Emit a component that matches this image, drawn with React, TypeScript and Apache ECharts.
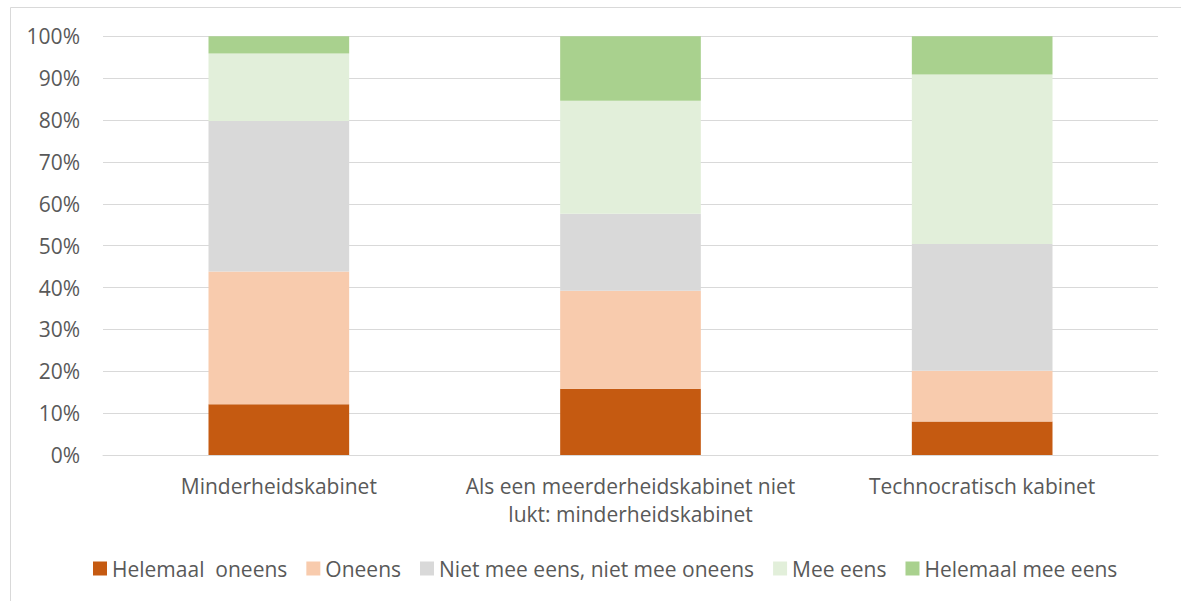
import React, { useEffect, useRef } from "react";
import * as echarts from "echarts";

const categories = [
  "Minderheidskabinet",
  "Als een meerderheidskabinet niet\nlukt: minderheidskabinet",
  "Technocratisch kabinet",
];
const seriesNames = [
  "Helemaal  oneens",
  "Oneens",
  "Niet mee eens, niet mee oneens",
  "Mee eens",
  "Helemaal mee eens",
];
const helemaalOneens = [12.1, 15.8, 8.0];
const oneens = [31.7, 23.4, 12.1];
const neutraal = [36.0, 18.4, 30.3];
const meeEens = [16.1, 27.0, 40.5];
const helemaalMeeEens = [4.1, 15.4, 9.1];
const colors = ["#C55A11", "#F8CBAD", "#D9D9D9", "#E2EFDA", "#A9D18E"];
const yTicks = [0, 10, 20, 30, 40, 50, 60, 70, 80, 90, 100];

const FONT = "'Open Sans', Lato, 'Liberation Sans', sans-serif";

export default function App() {
  const ref = useRef<HTMLDivElement>(null);
  useEffect(() => {
    if (!ref.current) return;
    const chart = echarts.init(ref.current, undefined, { renderer: "svg" });
    const data = [helemaalOneens, oneens, neutraal, meeEens, helemaalMeeEens];
    chart.setOption({
      animation: false,
      backgroundColor: "#ffffff",
      textStyle: { fontFamily: FONT },
      graphic: [
        {
          type: "rect",
          shape: { x: 10.5, y: 7.5, width: 1200, height: 620 },
          style: { fill: "none", stroke: "#D9D9D9", lineWidth: 1 },
          silent: true,
        },
      ],
      grid: { left: 103, right: 23, top: 36.3, bottom: 146 },
      legend: {
        left: 88,
        top: 553,
        itemWidth: 14,
        itemHeight: 14,
        itemGap: 19,
        icon: "rect",
        textStyle: { fontSize: 21, color: "#595959", fontFamily: FONT },
        data: seriesNames,
      },
      xAxis: {
        type: "category",
        data: categories,
        axisTick: { show: false },
        axisLine: { show: true, lineStyle: { color: "#D9D9D9", width: 1 } },
        axisLabel: {
          fontSize: 21,
          lineHeight: 28,
          color: "#595959",
          margin: 17,
          fontFamily: FONT,
          interval: 0,
        },
      },
      yAxis: {
        type: "value",
        min: yTicks[0],
        max: yTicks[yTicks.length - 1],
        interval: 10,
        axisLine: { show: false },
        axisTick: { show: false },
        splitLine: { lineStyle: { color: "#D9D9D9", width: 1 } },
        axisLabel: {
          fontSize: 21,
          color: "#595959",
          margin: 23,
          fontFamily: FONT,
          formatter: "{value}%",
        },
      },
      series: seriesNames.map((name, i) => ({
        name,
        type: "bar",
        stack: "total",
        barWidth: "40%",
        data: data[i],
        itemStyle: { color: colors[i] },
      })),
    });
    return () => chart.dispose();
  }, []);
  return (
    <div
      ref={ref}
      style={{ position: "absolute", left: 0, top: 0, width: 1181, height: 601 }}
    />
  );
}
